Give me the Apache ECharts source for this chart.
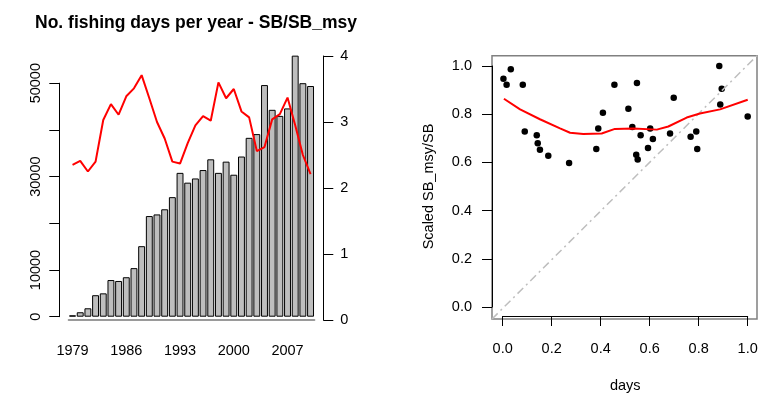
<!DOCTYPE html>
<html>
<head>
<meta charset="utf-8">
<script src="https://cdn.jsdelivr.net/npm/echarts@6/dist/echarts.min.js"></script>
<style>html,body{margin:0;padding:0;background:#fff;}#c{width:767px;height:398px;}</style>
</head>
<body>
<div id="c"></div>
<script>
// ---- data ----
const years = ['1979','1980','1981','1982','1983','1984','1985','1986','1987','1988','1989','1990','1991','1992','1993','1994','1995','1996','1997','1998','1999','2000','2001','2002','2003','2004','2005','2006','2007','2008','2009','2010'];
const fishingDays = [300, 950, 1800, 4600, 5000, 7850, 7650, 8450, 10400, 15100, 21550, 21900, 23000, 25600, 30800, 28700, 29600, 31400, 33700, 30800, 33200, 30400, 34300, 38300, 39100, 49600, 44300, 43000, 44600, 55900, 50000, 49400];
const sbRatio = [2.35, 2.41, 2.25, 2.40, 3.03, 3.27, 3.11, 3.39, 3.51, 3.71, 3.36, 3.00, 2.75, 2.40, 2.37, 2.68, 2.95, 3.09, 3.02, 3.60, 3.36, 3.50, 3.16, 3.07, 2.56, 2.62, 3.04, 3.12, 3.37, 2.95, 2.50, 2.21];
const leftTickLabels = {0:'0', 10000:'10000', 20000:'', 30000:'30000', 40000:'', 50000:'50000'};

const daysScaled = [0.003, 0.016, 0.033, 0.082, 0.090, 0.139, 0.143, 0.152, 0.186, 0.271, 0.382, 0.390, 0.409, 0.456, 0.513, 0.529, 0.548, 0.545, 0.551, 0.563, 0.593, 0.602, 0.613, 0.683, 0.698, 0.767, 0.790, 0.794, 0.884, 0.894, 0.888, 1.000];
const sbScaled   = [0.947, 0.922, 0.986, 0.922, 0.728, 0.713, 0.679, 0.652, 0.628, 0.597, 0.656, 0.741, 0.806, 0.922, 0.823, 0.747, 0.929, 0.632, 0.612, 0.713, 0.660, 0.741, 0.697, 0.720, 0.868, 0.706, 0.728, 0.656, 1.000, 0.906, 0.840, 0.790];
const smoothX = [0.005, 0.071, 0.152, 0.234, 0.275, 0.329, 0.404, 0.458, 0.533, 0.629, 0.676, 0.751, 0.805, 0.887, 1.000];
const smoothY = [0.864, 0.820, 0.779, 0.741, 0.723, 0.718, 0.720, 0.739, 0.741, 0.736, 0.749, 0.786, 0.803, 0.820, 0.860];
const refLineX = [-0.04, 1.04];
const refLineY = [-0.04, 1.04];

// ---- chart ----
const FONT = 'Liberation Sans, Arial, sans-serif';
const FS = 14.5;
const chart = echarts.init(document.getElementById('c'), null, {renderer: 'canvas'});
const axisLbl = {color: '#000', fontFamily: FONT, fontSize: FS};
const blackLine = {show: true, onZero: false, lineStyle: {color: '#000', width: 1}};
const tick10 = {show: true, inside: false, length: 10, lineStyle: {color: '#000', width: 1}};

chart.setOption({
  animation: false,
  backgroundColor: '#fff',
  title: {
    text: 'No. fishing days per year - SB/SB_msy',
    left: 191, top: 9, textAlign: 'center',
    textStyle: {fontFamily: FONT, fontSize: 17.5, fontWeight: 'bold', color: '#000'}
  },
  grid: [
    {left: 68.7, top: 83.2, width: 245.7, height: 233.5},
    {left: 68.7, top: 56, width: 245.7, height: 264},
    {left: 492, top: 55.7, width: 265, height: 263.3, show: true, borderColor: '#808080', borderWidth: 1.5, backgroundColor: 'transparent'},
    {left: 502.7, top: 66, width: 245, height: 244}
  ],
  xAxis: [
    {type: 'category', gridIndex: 0, data: years, boundaryGap: true,
     axisLine: {show: false}, axisTick: {show: false},
     axisLabel: Object.assign({interval: 6, margin: 27}, axisLbl), splitLine: {show: false}},
    {type: 'category', gridIndex: 1, data: years, boundaryGap: true,
     axisLine: {show: true, lineStyle: {color: '#9a9a9a', width: 2}}, axisTick: {show: false},
     axisLabel: {show: false}, splitLine: {show: false}},
    {type: 'value', gridIndex: 2, min: -0.04, max: 1.04, show: false},
    {type: 'value', gridIndex: 3, min: 0, max: 1, interval: 0.2, offset: 9, position: 'bottom',
     axisLine: blackLine, axisTick: tick10,
     axisLabel: Object.assign({margin: 25, formatter: v => v.toFixed(1)}, axisLbl),
     splitLine: {show: false},
     name: 'days', nameLocation: 'middle', nameGap: 62,
     nameTextStyle: {fontFamily: FONT, fontSize: FS, color: '#000'}}
  ],
  yAxis: [
    {type: 'value', gridIndex: 0, min: 0, max: 50000, interval: 10000, position: 'left', offset: 9.4,
     axisLine: blackLine, axisTick: tick10,
     axisLabel: Object.assign({rotate: 90, margin: 16, formatter: v => leftTickLabels[v]}, axisLbl),
     splitLine: {show: false}},
    {type: 'value', gridIndex: 1, min: 0, max: 4, interval: 1, position: 'right', offset: 8.9,
     axisLine: blackLine, axisTick: tick10,
     axisLabel: Object.assign({margin: 17}, axisLbl), splitLine: {show: false}},
    {type: 'value', gridIndex: 2, min: -0.04, max: 1.04, show: false},
    {type: 'value', gridIndex: 3, min: 0, max: 1, interval: 0.2, offset: 10.7, position: 'left',
     axisLine: blackLine, axisTick: tick10,
     axisLabel: Object.assign({margin: 20, formatter: v => v.toFixed(1)}, axisLbl),
     splitLine: {show: false},
     name: 'Scaled SB_msy/SB', nameLocation: 'middle', nameGap: 56, nameRotate: 90,
     nameTextStyle: {fontFamily: FONT, fontSize: FS, color: '#000'}}
  ],
  series: [
    {type: 'bar', xAxisIndex: 0, yAxisIndex: 0, data: fishingDays, clip: false,
     barCategoryGap: '10%',
     itemStyle: {color: '#bebebe', borderColor: '#000', borderWidth: 1}},
    {type: 'line', xAxisIndex: 1, yAxisIndex: 1, data: sbRatio, symbol: 'none',
     lineStyle: {color: '#ff0000', width: 2}},
    {type: 'line', xAxisIndex: 2, yAxisIndex: 2, symbol: 'none',
     data: refLineX.map((x, i) => [x, refLineY[i]]),
     lineStyle: {color: '#bebebe', width: 1.5, type: [8, 4, 2, 4]}},
    {type: 'line', xAxisIndex: 3, yAxisIndex: 3, symbol: 'none', clip: false,
     data: smoothX.map((x, i) => [x, smoothY[i]]),
     lineStyle: {color: '#ff0000', width: 2}},
    {type: 'scatter', xAxisIndex: 3, yAxisIndex: 3, clip: false, symbolSize: 6.5,
     data: daysScaled.map((x, i) => [x, sbScaled[i]]),
     itemStyle: {color: '#000', opacity: 1}}
  ]
});
</script>
</body>
</html>
